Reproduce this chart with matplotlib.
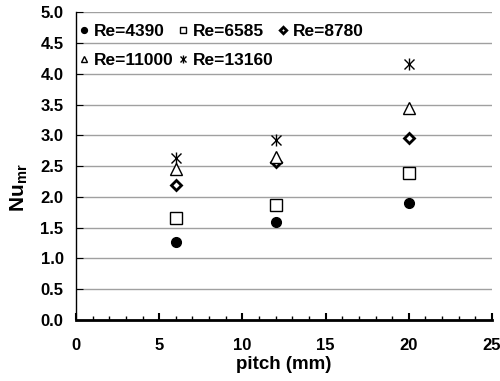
import numpy as np
import matplotlib.pyplot as plt
from matplotlib.ticker import MultipleLocator

plt.rcParams['font.family'] = ['Liberation Sans', 'DejaVu Sans']
plt.rcParams['mathtext.fontset'] = 'custom'
plt.rcParams['mathtext.rm'] = 'Liberation Sans:bold'
plt.rcParams['mathtext.bf'] = 'Liberation Sans:bold'

pitch = [6, 12, 20]
re_labels = ['Re=4390', 'Re=6585', 'Re=8780', 'Re=11000', 'Re=13160']
nu_4390 = [1.27, 1.59, 1.90]
nu_6585 = [1.66, 1.87, 2.39]
nu_8780 = [2.19, 2.57, 2.96]
nu_11000 = [2.45, 2.65, 3.45]
nu_13160 = [2.63, 2.92, 4.16]

fig = plt.figure(figsize=(5, 3.81), dpi=100)
ax = fig.add_axes([0.152, 0.16, 0.832, 0.808])

h1, = ax.plot(pitch, nu_4390, 'o', color='black', markersize=7, linestyle='none')
h2, = ax.plot(pitch, nu_6585, 's', mfc='white', mec='black', mew=1, markersize=8, linestyle='none')
h3, = ax.plot(pitch, nu_8780, 'D', mfc='white', mec='black', mew=2, markersize=5.5, linestyle='none')
h4, = ax.plot(pitch, nu_11000, '^', mfc='white', mec='black', mew=1, markersize=8, linestyle='none')
h5a, = ax.plot(pitch, nu_13160, 'x', color='black', mew=1, markersize=7, linestyle='none')
h5b, = ax.plot(pitch, nu_13160, '|', color='black', mew=1, markersize=9, linestyle='none')

ax.set_xlim(0, 25)
ax.set_ylim(0, 5)
ax.xaxis.set_major_locator(MultipleLocator(5))
ax.xaxis.set_minor_locator(MultipleLocator(1))
ax.yaxis.set_major_locator(MultipleLocator(0.5))
ax.yaxis.set_major_formatter(plt.FormatStrFormatter('%.1f'))
ax.grid(axis='y', color='#a0a0a0', linewidth=1)
ax.set_axisbelow(True)

for s in ['top', 'right']:
    ax.spines[s].set_visible(False)
ax.spines['bottom'].set_linewidth(2)
ax.spines['left'].set_linewidth(1)
ax.tick_params(axis='x', which='both', direction='in', pad=13, labelsize=12)
ax.tick_params(axis='x', which='major', length=5, width=1.5)
ax.tick_params(axis='x', which='minor', length=3, width=1)
ax.tick_params(axis='y', direction='in', length=5, pad=9, labelsize=12)
for lbl in ax.get_xticklabels() + ax.get_yticklabels():
    lbl.set_fontweight('bold')

ax.set_xlabel('pitch (mm)', fontsize=13.5, fontweight='bold', labelpad=2)
ax.set_ylabel(r'Nu$_{\mathbf{mr}}$', fontsize=15, fontweight='bold')
ax.yaxis.set_label_coords(-0.11, 0.43)

handles = [h1, h4, h2, (h5a, h5b), h3]
labels = [re_labels[0], re_labels[3], re_labels[1], re_labels[4], re_labels[2]]
leg = ax.legend(handles, labels, ncol=3, loc='upper left', bbox_to_anchor=(-0.02, 1.0),
                frameon=False, prop={'weight': 'bold', 'size': 12.5}, markerscale=0.6,
                handlelength=0.5, handletextpad=0.3, columnspacing=0.3, labelspacing=0.75,
                borderaxespad=0.3)

fig.savefig('out.png', dpi=100)
